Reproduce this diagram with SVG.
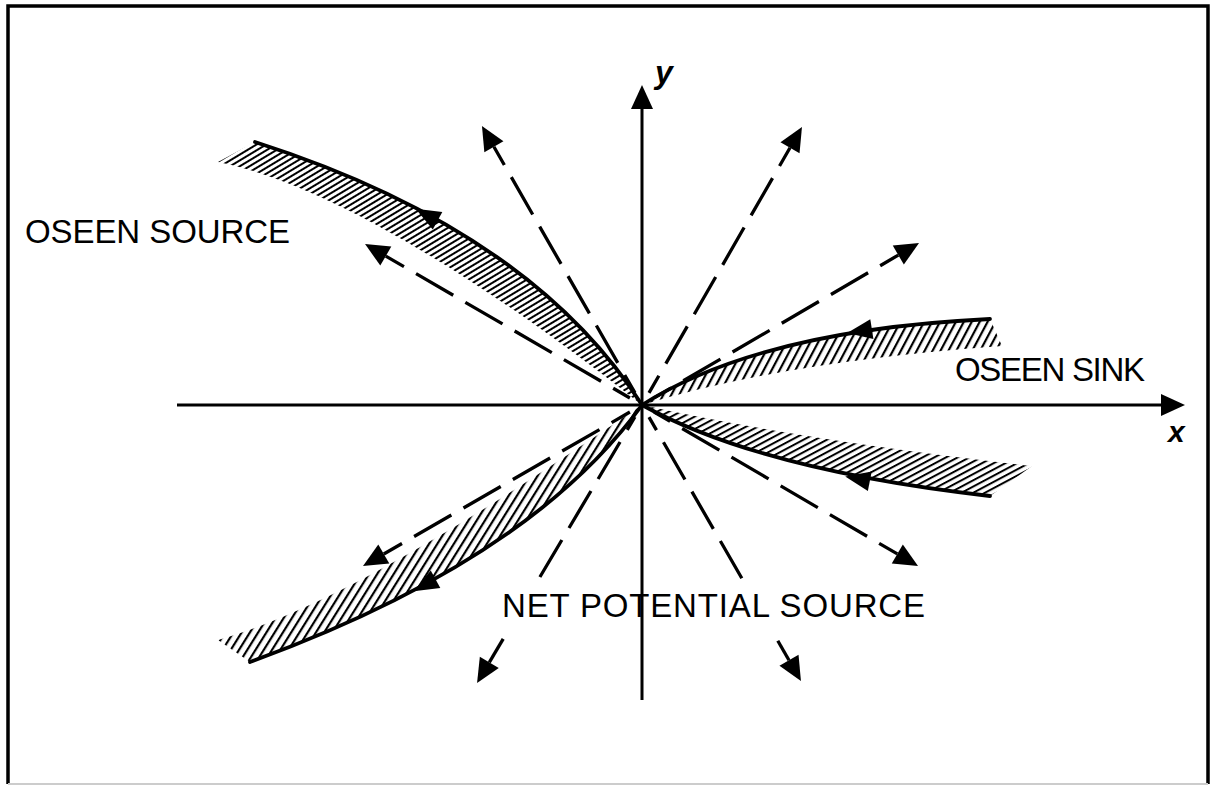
<svg xmlns="http://www.w3.org/2000/svg" width="1212" height="786" viewBox="0 0 1212 786">
<style>
.frame{fill:none;stroke:#000;stroke-width:3.5}
.axis{fill:none;stroke:#000;stroke-width:3}
.ray{fill:none;stroke:#000;stroke-width:3.3;stroke-dasharray:43 14;stroke-dashoffset:22}
.shaft{fill:none;stroke:#000;stroke-width:3.3}
.edge{fill:none;stroke:#000;stroke-width:3.8;stroke-linecap:round}
.lbl{font-family:"Liberation Sans",Arial,sans-serif;font-size:33px;fill:#000}
.var{font-family:"Liberation Sans",Arial,sans-serif;font-style:italic;font-weight:bold;fill:#000}
</style>
<defs>
<marker id="ah" markerUnits="userSpaceOnUse" markerWidth="26" markerHeight="24" viewBox="0 -12 26 24" refX="0" refY="0" orient="auto-start-reverse" overflow="visible">
<path d="M0,-11 L24,0 L0,11 Z" fill="#000"/>
</marker>
<path id="tri" d="M13,0 L-12,-10 L-12,10 Z" fill="#000"/>
<pattern id="hUL" width="10" height="5" patternUnits="userSpaceOnUse" patternTransform="rotate(-31)"><rect width="10" height="2" fill="#000"/></pattern>
<pattern id="hUR" width="10" height="7" patternUnits="userSpaceOnUse" patternTransform="rotate(-62)"><rect width="10" height="2.2" fill="#000"/></pattern>
<pattern id="hLR" width="10" height="5.5" patternUnits="userSpaceOnUse" patternTransform="rotate(-28)"><rect width="10" height="2" fill="#000"/></pattern>
<pattern id="hLL" width="10" height="7" patternUnits="userSpaceOnUse" patternTransform="rotate(-58)"><rect width="10" height="2.2" fill="#000"/></pattern>
</defs>
<rect width="1212" height="786" fill="#fff"/>
<g id="frame">
<path class="frame" d="M8,784 L8,6 L1208,6 L1208,784"/>
<line x1="8" y1="784" x2="1208" y2="784" stroke="#ccc" stroke-width="2"/>
</g>
<g id="oseen-source-band">
<path d="M642,405 Q530,230 255,142 L218,162 C360,190 560,340 642,405 Z" fill="url(#hUL)"/>
<path class="edge" d="M642,405 Q530,230 255,142"/>
<use href="#tri" transform="translate(427,215) rotate(-151.5)"/>
</g>
<g id="oseen-sink-band">
<path d="M642,405 Q760,330 990,319 L1002,346 Q780,362 642,405 Z" fill="url(#hUR)"/>
<path class="edge" d="M642,405 Q760,330 990,319"/>
<use href="#tri" transform="translate(860,331) rotate(171)"/>
</g>
<g id="oseen-sink-band-lower">
<path d="M642,405 Q760,470 990,496 L1032,466 Q800,440 642,405 Z" fill="url(#hLR)"/>
<path class="edge" d="M642,405 Q760,470 990,496"/>
<use href="#tri" transform="translate(858,479) rotate(-169)"/>
</g>
<g id="oseen-source-band-lower">
<path d="M642,405 Q530,560 250,662 L218,640 C360,600 560,460 642,405 Z" fill="url(#hLL)"/>
<path class="edge" d="M642,405 Q530,560 250,662"/>
<use href="#tri" transform="translate(425,585) rotate(151.4)"/>
</g>
<g id="axes">
<line class="axis" x1="642" y1="700" x2="642" y2="109" marker-end="url(#ah)"/>
<line class="axis" x1="177" y1="405" x2="1161" y2="405" marker-end="url(#ah)"/>
<text class="var" x="655" y="83" font-size="32">y</text>
<text class="var" x="1168" y="442" font-size="30">x</text>
</g>
<g id="connectors">
<line class="ray" x1="493.9" y1="146.8" x2="635" y2="392.9" marker-start="url(#ah)"/>
<line class="ray" x1="790" y1="147.8" x2="649" y2="392.9" marker-start="url(#ah)"/>
<line class="ray" x1="385.8" y1="256.1" x2="629.9" y2="398" marker-start="url(#ah)"/>
<line class="ray" x1="898.3" y1="255.1" x2="654.1" y2="397.9" marker-start="url(#ah)"/>
<line class="ray" x1="383.8" y1="554" x2="629.9" y2="412" marker-start="url(#ah)"/>
<line class="ray" x1="897.3" y1="553.9" x2="654.1" y2="412.1" marker-start="url(#ah)"/>
<line class="shaft" x1="489.3" y1="662.4" x2="503.2" y2="638.9" marker-start="url(#ah)"/>
<line class="ray" style="stroke-dashoffset:0" x1="539.9" y1="577" x2="634.9" y2="417"/>
<line class="shaft" x1="789" y1="660.2" x2="777.8" y2="640.7" marker-start="url(#ah)"/>
<line class="ray" style="stroke-dashoffset:0" x1="741.8" y1="578.3" x2="649" y2="417.1"/>
</g>
<g id="labels">
<text class="lbl" x="25" y="243" textLength="265" lengthAdjust="spacing">OSEEN SOURCE</text>
<text class="lbl" x="955" y="381" textLength="190" lengthAdjust="spacing">OSEEN SINK</text>
<text class="lbl" x="502" y="617" textLength="423" lengthAdjust="spacing">NET POTENTIAL SOURCE</text>
</g>
</svg>
